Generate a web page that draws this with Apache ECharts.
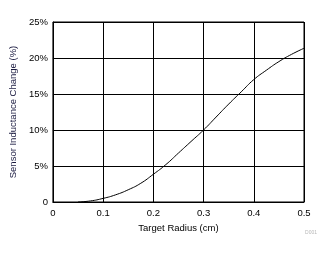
<!DOCTYPE html>
<html><head><meta charset="utf-8">
<script src="https://cdn.jsdelivr.net/npm/echarts@6/dist/echarts.min.js"></script>
<style>html,body{margin:0;padding:0;background:#fff}#c{width:333px;height:254px}</style>
</head><body><div id="c"></div>
<script>
var radius = [0.05,0.075,0.1,0.125,0.15,0.175,0.2,0.225,0.25,0.275,0.3,0.325,0.35,0.375,0.4,0.425,0.45,0.475,0.5];
var change = [0,0.15,0.5,1.0,1.7,2.6,3.85,5.2,6.8,8.4,10,11.8,13.6,15.3,17.0,18.3,19.5,20.5,21.35];
var xTicks = ['0','0.1','0.2','0.3','0.4','0.5'];
var yTicks = ['0','5%','10%','15%','20%','25%'];
var xTitle = 'Target Radius (cm)';
var yTitle = 'Sensor Inductance Change (%)';
var note = 'D001';

var chart = echarts.init(document.getElementById('c'));
var font = 'Liberation Sans, Arial, sans-serif';
chart.setOption({
  animation:false,
  grid:{left:50,right:29,top:22,bottom:52,show:true,borderColor:'#000',borderWidth:1},
  graphic:[{type:'text',right:16,top:230,style:{text:note,fill:'#b8b8b8',font:'5px '+font}}],
  xAxis:{type:'value',min:0,max:0.5,interval:0.1,
    name:xTitle,nameLocation:'middle',nameGap:15,
    nameTextStyle:{color:'#000',fontFamily:font,fontSize:9.5},
    axisLine:{show:true,lineStyle:{color:'#000',width:1}},axisTick:{show:false},
    axisLabel:{color:'#000',fontFamily:font,fontSize:9.5,margin:6,formatter:function(v){return xTicks[Math.round(v*10)];}},
    splitLine:{show:true,lineStyle:{color:'#000',width:1}}},
  yAxis:{type:'value',min:0,max:25,interval:5,
    name:yTitle,nameLocation:'middle',nameGap:34,
    nameTextStyle:{color:'#1a1a40',fontFamily:font,fontSize:9.5},
    axisLine:{show:true,lineStyle:{color:'#000',width:1}},axisTick:{show:false},
    axisLabel:{color:'#000',fontFamily:font,fontSize:9.5,margin:5,formatter:function(v){return yTicks[Math.round(v/5)];}},
    splitLine:{show:true,lineStyle:{color:'#000',width:1}}},
  series:[{type:'line',data:radius.map(function(r,i){return [r,change[i]];}),
    smooth:true,showSymbol:false,lineStyle:{color:'#000',width:1}}]
});
</script></body></html>
